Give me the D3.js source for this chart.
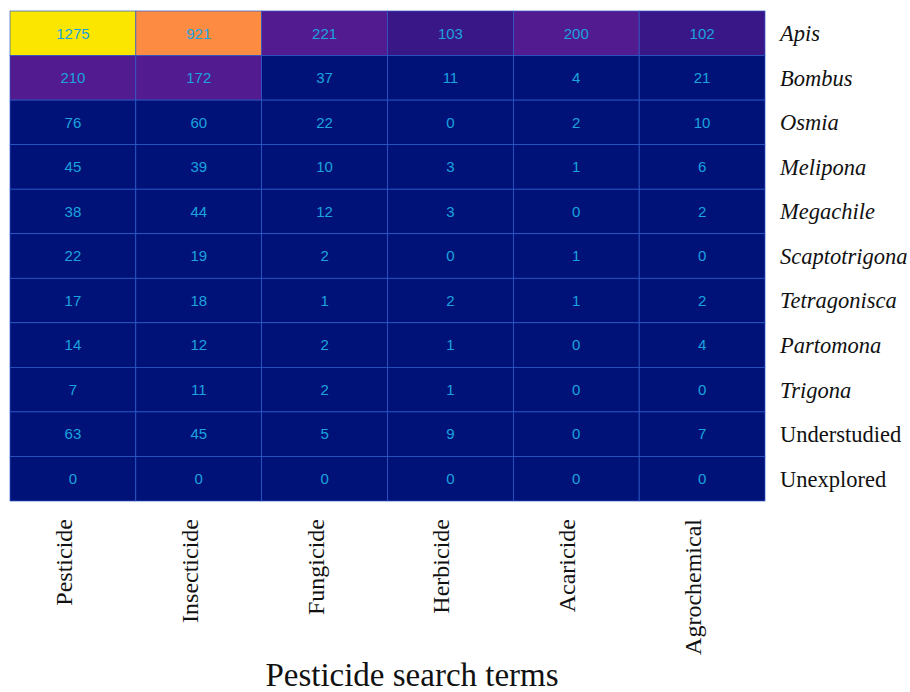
<!DOCTYPE html>
<html>
<head>
<meta charset="utf-8">
<script src="https://cdn.jsdelivr.net/npm/d3@7"></script>
<style>
  body { margin: 0; background: #fff; }
  svg { display: block; }
</style>
</head>
<body>
<svg id="chart" width="910" height="692"></svg>
<script>
const terms = ['Pesticide', 'Insecticide', 'Fungicide', 'Herbicide', 'Acaricide', 'Agrochemical']
const genera = ['Apis', 'Bombus', 'Osmia', 'Melipona', 'Megachile', 'Scaptotrigona',
  'Tetragonisca', 'Partomona', 'Trigona', 'Understudied', 'Unexplored']
const italicGenera = ['Apis', 'Bombus', 'Osmia', 'Melipona', 'Megachile', 'Scaptotrigona',
  'Tetragonisca', 'Partomona', 'Trigona']

// one array per row, columns in the order of `terms`
const counts = [
  [1275, 921, 221, 103, 200, 102],
  [210, 172, 37, 11, 4, 21],
  [76, 60, 22, 0, 2, 10],
  [45, 39, 10, 3, 1, 6],
  [38, 44, 12, 3, 0, 2],
  [22, 19, 2, 0, 1, 0],
  [17, 18, 1, 2, 1, 2],
  [14, 12, 2, 1, 0, 4],
  [7, 11, 2, 1, 0, 0],
  [63, 45, 5, 9, 0, 7],
  [0, 0, 0, 0, 0, 0]
]

const colorBreaks = [100, 150, 500, 1000]
const colorSteps = ['#001278', '#3a1786', '#521b8f', '#fd8b42', '#fbe600']

function draw () {
  const dim = setDimensions()
  const cells = flatten()
  const scales = setScales(dim)
  const svg = d3.select('#chart')

  drawCells(svg, cells, scales)
  drawRowLabels(svg, dim, scales)
  drawColLabels(svg, dim, scales)
  drawTitle(svg)
}

function setDimensions () {
  return { left: 10, top: 11, right: 765, bottom: 501 }
}

function flatten () {
  const out = []
  counts.forEach((row, i) => {
    row.forEach((v, j) => out.push({ genus: genera[i], term: terms[j], value: v }))
  })
  return out
}

function setScales (dim) {
  return {
    x: d3.scaleBand().domain(terms).range([dim.left, dim.right]),
    y: d3.scaleBand().domain(genera).range([dim.top, dim.bottom]),
    color: d3.scaleThreshold().domain(colorBreaks).range(colorSteps)
  }
}

function drawCells (svg, cells, { x, y, color }) {
  const g = svg.append('g')
  g.selectAll('rect')
    .data(cells)
    .join('rect')
      .attr('x', d => x(d.term))
      .attr('y', d => y(d.genus))
      .attr('width', x.bandwidth())
      .attr('height', y.bandwidth())
      .attr('fill', d => color(d.value))
      .attr('stroke', '#2c5bc9')
      .attr('stroke-width', 0.7)

  g.selectAll('text')
    .data(cells)
    .join('text')
      .attr('x', d => x(d.term) + x.bandwidth() / 2)
      .attr('y', d => y(d.genus) + y.bandwidth() / 2)
      .attr('dy', '0.35em')
      .attr('text-anchor', 'middle')
      .attr('font-family', 'Liberation Sans, Arial, sans-serif')
      .attr('font-size', 15)
      .attr('fill', '#1aa3df')
      .text(d => d.value)
}

function drawRowLabels (svg, dim, { y }) {
  svg.append('g')
    .selectAll('text')
    .data(genera)
    .join('text')
      .attr('x', dim.right + 15)
      .attr('y', d => y(d) + y.bandwidth() / 2)
      .attr('dy', '0.35em')
      .attr('font-family', 'Liberation Serif, Times New Roman, serif')
      .attr('font-size', 22.5)
      .attr('font-style', d => italicGenera.includes(d) ? 'italic' : 'normal')
      .attr('fill', '#111')
      .text(d => d)
}

function drawColLabels (svg, dim, { x }) {
  svg.append('g')
    .selectAll('text')
    .data(terms)
    .join('text')
      .attr('transform', d => `translate(${x(d) + x.bandwidth() / 2 - 1}, ${dim.bottom + 18}) rotate(-90)`)
      .attr('text-anchor', 'end')
      .attr('font-family', 'Liberation Serif, Times New Roman, serif')
      .attr('font-size', 24)
      .attr('fill', '#111')
      .text(d => d)
}

function drawTitle (svg) {
  svg.append('text')
    .attr('x', 412)
    .attr('y', 686)
    .attr('text-anchor', 'middle')
    .attr('font-family', 'Liberation Serif, Times New Roman, serif')
    .attr('font-size', 33)
    .attr('fill', '#111')
    .text('Pesticide search terms')
}

draw()
</script>
</body>
</html>
